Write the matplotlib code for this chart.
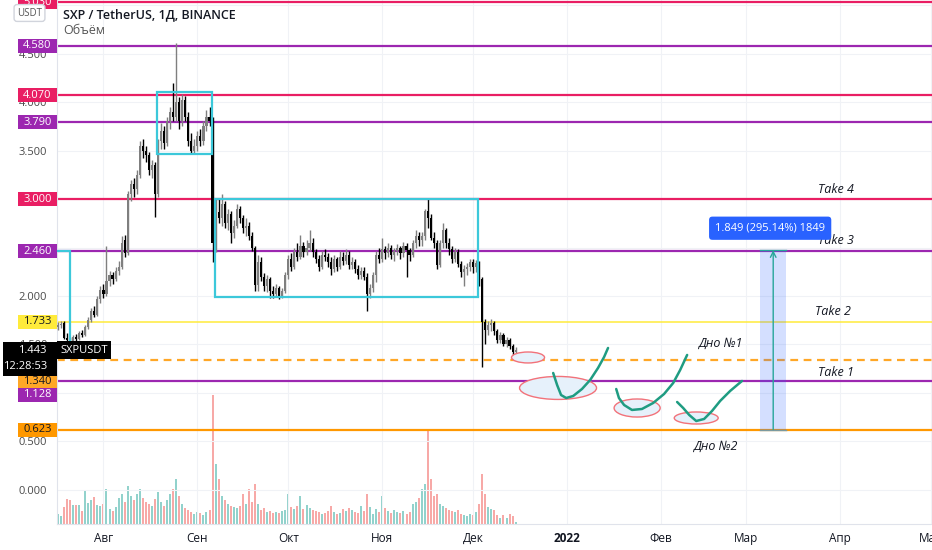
import datetime as dt
import numpy as np
import matplotlib.pyplot as plt
import matplotlib.dates as mdates
import matplotlib.transforms as mtrans
from matplotlib.patches import Rectangle, Ellipse

plt.rcParams['font.family'] = ['Open Sans', 'DejaVu Sans']

# daily SXP/USDT candles from 17 Jul 2021
start = dt.datetime(2021, 7, 17)
opens = [1.68, 1.70, 1.72, 1.57, 1.55, 1.53, 1.58, 1.56, 1.62, 1.60,
         1.68, 1.75, 1.85, 1.80, 1.97, 2.06, 2.02, 2.15, 2.22, 2.18,
         2.26, 2.30, 2.58, 2.44, 3.05, 3.15, 3.10, 3.25, 3.55, 3.50,
         3.45, 3.30, 3.35, 3.05, 3.60, 3.70, 3.58, 3.80, 3.90, 3.85,
         4.00, 3.80, 4.02, 3.85, 3.60, 3.50, 3.55, 3.65, 3.60, 3.75,
         3.85, 3.80, 2.55, 2.87, 2.80, 2.95, 2.75, 2.85, 2.65, 2.72,
         2.90, 2.80, 2.70, 2.72, 2.62, 2.50, 2.11, 2.35, 2.20, 2.10,
         2.18, 2.05, 2.02, 2.08, 2.00, 2.05, 2.22, 2.38, 2.30, 2.45,
         2.40, 2.52, 2.45, 2.50, 2.55, 2.45, 2.38, 2.30, 2.42, 2.40,
         2.35, 2.28, 2.38, 2.30, 2.40, 2.36, 2.42, 2.32, 2.35, 2.28,
         2.22, 2.26, 2.20, 2.02, 2.08, 2.22, 2.42, 2.38, 2.48, 2.44,
         2.50, 2.42, 2.46, 2.50, 2.44, 2.52, 2.47, 2.42, 2.55, 2.62,
         2.58, 2.62, 2.88, 2.80, 2.60, 2.55, 2.32, 2.55, 2.68, 2.55,
         2.48, 2.38, 2.45, 2.33, 2.25, 2.28, 2.30, 2.35, 2.30, 2.34,
         2.18, 1.73, 1.65, 1.70, 1.72, 1.64, 1.55, 1.60, 1.50, 1.55,
         1.48, 1.42]
highs = [1.73, 1.74, 1.74, 1.62, 1.58, 1.60, 1.61, 1.64, 1.65, 1.70,
         1.78, 1.88, 1.90, 2.00, 2.10, 2.12, 2.52, 2.26, 2.25, 2.30,
         2.36, 2.62, 2.63, 3.08, 3.20, 3.22, 3.30, 3.60, 3.62, 3.55,
         3.48, 3.40, 3.38, 3.62, 3.78, 3.75, 3.85, 3.95, 4.20, 4.61,
         4.05, 4.08, 4.06, 3.90, 3.68, 3.62, 3.70, 3.72, 3.80, 3.92,
         3.95, 3.85, 3.00, 3.01, 3.05, 2.98, 2.90, 2.88, 2.78, 2.95,
         2.93, 2.84, 2.80, 2.76, 2.66, 2.52, 2.42, 2.40, 2.24, 2.22,
         2.20, 2.10, 2.12, 2.10, 2.08, 2.25, 2.42, 2.44, 2.50, 2.55,
         2.63, 2.56, 2.58, 2.68, 2.60, 2.48, 2.42, 2.46, 2.48, 2.44,
         2.40, 2.42, 2.40, 2.46, 2.45, 2.48, 2.46, 2.40, 2.38, 2.32,
         2.30, 2.30, 2.24, 2.12, 2.25, 2.46, 2.50, 2.60, 2.52, 2.55,
         2.53, 2.50, 2.54, 2.52, 2.56, 2.55, 2.50, 2.58, 2.68, 2.66,
         2.66, 2.90, 3.01, 2.85, 2.66, 2.58, 2.58, 2.75, 2.70, 2.60,
         2.52, 2.50, 2.48, 2.36, 2.32, 2.34, 2.38, 2.38, 2.37, 2.36,
         2.20, 1.76, 1.74, 1.76, 1.74, 1.66, 1.63, 1.62, 1.58, 1.57,
         1.50, 1.47]
lows = [1.65, 1.67, 1.56, 1.53, 1.50, 1.51, 1.54, 1.55, 1.58, 1.59,
        1.66, 1.73, 1.78, 1.79, 1.93, 1.98, 2.00, 2.10, 2.12, 2.15,
        2.22, 2.28, 2.40, 2.42, 2.98, 3.02, 3.05, 3.22, 3.42, 3.38,
        3.25, 3.22, 2.81, 3.02, 3.52, 3.52, 3.55, 3.72, 3.80, 3.80,
        3.72, 3.75, 3.80, 3.55, 3.46, 3.46, 3.50, 3.55, 3.56, 3.70,
        3.75, 2.35, 2.45, 2.75, 2.72, 2.70, 2.68, 2.55, 2.60, 2.70,
        2.75, 2.65, 2.62, 2.58, 2.46, 2.05, 2.05, 2.15, 2.05, 2.04,
        1.98, 1.98, 1.99, 1.97, 1.98, 2.03, 2.18, 2.26, 2.28, 2.36,
        2.38, 2.40, 2.42, 2.46, 2.40, 2.34, 2.26, 2.28, 2.36, 2.30,
        2.22, 2.25, 2.26, 2.28, 2.32, 2.33, 2.28, 2.28, 2.24, 2.18,
        2.18, 2.16, 1.85, 1.98, 2.04, 2.14, 2.34, 2.35, 2.38, 2.40,
        2.38, 2.36, 2.42, 2.38, 2.40, 2.20, 2.36, 2.40, 2.50, 2.52,
        2.52, 2.58, 2.70, 2.58, 2.50, 2.28, 2.30, 2.50, 2.50, 2.42,
        2.34, 2.35, 2.30, 2.20, 2.10, 2.22, 2.26, 2.24, 2.25, 2.10,
        1.27, 1.50, 1.60, 1.64, 1.60, 1.52, 1.52, 1.48, 1.47, 1.45,
        1.39, 1.40]
closes = [1.70, 1.71, 1.57, 1.55, 1.53, 1.58, 1.56, 1.62, 1.60, 1.68,
          1.75, 1.85, 1.80, 1.97, 2.06, 2.02, 2.15, 2.22, 2.18, 2.26,
          2.30, 2.55, 2.44, 3.05, 3.15, 3.10, 3.25, 3.55, 3.50, 3.45,
          3.30, 3.35, 3.05, 3.60, 3.70, 3.58, 3.80, 3.90, 3.85, 4.00,
          3.80, 4.02, 3.85, 3.60, 3.50, 3.55, 3.65, 3.60, 3.75, 3.85,
          3.80, 2.55, 2.87, 2.80, 2.95, 2.75, 2.85, 2.65, 2.72, 2.90,
          2.80, 2.70, 2.72, 2.62, 2.50, 2.11, 2.35, 2.20, 2.10, 2.18,
          2.05, 2.02, 2.08, 2.00, 2.05, 2.22, 2.38, 2.30, 2.45, 2.40,
          2.52, 2.45, 2.50, 2.55, 2.45, 2.38, 2.30, 2.42, 2.40, 2.35,
          2.28, 2.38, 2.30, 2.40, 2.36, 2.42, 2.32, 2.35, 2.28, 2.22,
          2.26, 2.20, 2.02, 2.08, 2.22, 2.42, 2.38, 2.48, 2.44, 2.50,
          2.42, 2.46, 2.50, 2.44, 2.52, 2.47, 2.42, 2.55, 2.62, 2.58,
          2.62, 2.88, 2.80, 2.60, 2.55, 2.32, 2.55, 2.68, 2.55, 2.48,
          2.38, 2.45, 2.33, 2.25, 2.28, 2.30, 2.35, 2.30, 2.34, 2.18,
          1.73, 1.65, 1.70, 1.72, 1.64, 1.55, 1.60, 1.50, 1.55, 1.48,
          1.42, 1.443]
volume = [10, 8, 17, 25, 24, 19, 19, 19, 13, 33,
          21, 24, 27, 19, 18, 20, 35, 15, 13, 17,
          26, 30, 22, 38, 28, 24, 30, 35, 26, 22,
          20, 18, 25, 32, 22, 18, 24, 30, 35, 45,
          28, 20, 16, 14, 12, 10, 12, 11, 9, 12,
          14, 129, 60, 45, 28, 24, 20, 18, 17, 16,
          18, 30, 20, 35, 22, 40, 20, 14, 16, 12,
          13, 11, 12, 11, 13, 14, 30, 17, 15, 18,
          28, 15, 19, 16, 14, 13, 12, 10, 11, 13,
          18, 12, 10, 11, 15, 13, 16, 14, 12, 11,
          18, 13, 30, 17, 10, 15, 12, 28, 16, 13,
          11, 14, 12, 11, 13, 10, 12, 20, 22, 26,
          35, 40, 94, 45, 28, 30, 20, 18, 16, 14,
          13, 12, 14, 10, 9, 8, 10, 9, 12, 20,
          50, 30, 17, 15, 14, 9, 6, 9, 6, 10,
          8, 2]

# levels drawn on the chart
level_prices = [5.030, 4.580, 4.070, 3.790, 3.000, 2.460, 1.733, 1.340, 1.128, 0.623]
level_colors = ['#e91e63', '#9c27b0', '#e91e63', '#9c27b0', '#e91e63', '#9c27b0',
                '#ffeb3b', '#ffa726', '#9c27b0', '#ff9800']
level_text = ['#ffffff'] * 6 + ['#131722', '#131722', '#ffffff', '#131722']
level_shift = [0, 0, 0, 0, 0, 0, 0, 21, 14, 0]   # px, tags pushed down by the price tag

# boxes (day offset from start, price)
box_d0 = [-10, 32.7, 51.8]
box_d1 = [3.96, 50.8, 138.6]
box_lo = [1.40, 3.464, 1.99]
box_hi = [2.46, 4.103, 3.00]

# hand drawn ellipses and brush strokes
ell_day = [155.1, 165.0, 191.1, 210.6]
ell_price = [1.366, 1.052, 0.845, 0.742]
ell_w = [10.9, 25.4, 15.2, 14.5]
ell_h = [0.113, 0.237, 0.186, 0.124]
stroke1_day = [163.4, 164.7, 166.0, 167.7, 170.0, 172.9, 175.6, 178.2, 180.2, 181.5]
stroke1_price = [1.206, 1.082, 0.979, 0.948, 0.969, 1.041, 1.134, 1.258, 1.371, 1.464]
stroke2_day = [184.2, 185.1, 186.8, 189.4, 192.7, 196.4, 200.0, 203.0, 205.3, 207.6]
stroke2_price = [1.041, 0.948, 0.876, 0.825, 0.835, 0.897, 0.990, 1.103, 1.237, 1.392]
stroke3_day = [204.3, 206.3, 208.3, 210.6, 213.2, 215.8, 218.5, 221.8, 225.7]
stroke3_price = [0.907, 0.845, 0.773, 0.711, 0.732, 0.814, 0.918, 1.021, 1.124]

note_text = ['Take 4', 'Take 3', 'Take 2', 'Take 1', 'Дно №1', 'Дно №2']
note_day = [256.8, 256.8, 255.8, 256.8, 218.5, 216.8]
note_price = [3.103, 2.577, 1.845, 1.216, 1.515, 0.454]

measure_d0, measure_d1 = 231.7, 240.3
measure_lo, measure_hi = 0.623, 2.472
measure_label = '1.849 (295.14%) 1849'

month_starts = [dt.datetime(2021, 8, 1), dt.datetime(2021, 9, 1), dt.datetime(2021, 10, 1),
                dt.datetime(2021, 11, 1), dt.datetime(2021, 12, 1), dt.datetime(2022, 1, 1),
                dt.datetime(2022, 2, 1), dt.datetime(2022, 3, 1), dt.datetime(2022, 4, 1),
                dt.datetime(2022, 5, 1)]
month_labels = ['Авг', 'Сен', 'Окт', 'Ноя', 'Дек', '2022', 'Фев', 'Мар', 'Апр', 'Май']

last_price = 1.443

# ---------------------------------------------------------------
W, H = 932, 550
fig = plt.figure(figsize=(W / 100, H / 100), dpi=100, facecolor='white')
rect = [57 / W, 26 / H, 875 / W, 524 / H]
axv = fig.add_axes(rect)
ax = fig.add_axes(rect, sharex=axv)
ax.patch.set_visible(False)

x0 = mdates.date2num(start)
x = x0 + np.arange(len(closes))
o, h, l, c = map(np.array, (opens, highs, lows, closes))
up = c >= o

# volume underneath
vcol = np.where(up, '#92d2cc', '#f7a9a7')
axv.bar(x, volume, width=0.66, color=vcol, linewidth=0)
axv.set_ylim(0, 524)
axv.set_yticks([])
axv.tick_params(axis='x', length=0, labelbottom=False)
for s in axv.spines.values():
    s.set_visible(False)

ymin, ymax = -0.351, 5.052
ax.set_ylim(ymin, ymax)
ax.set_xlim(x0 - 0.33, x0 + 288.4)
ppx = (ymax - ymin) / 524

# grid, tick labels hidden under the tags are left blank
yt = np.arange(0, 5.01, 0.5)
ax.set_yticks(yt)
ax.set_yticklabels(['' if v in (1.0, 3.0, 5.0) else '%.3f' % v for v in yt])
ax.set_xticks(mdates.date2num(month_starts))
ax.set_xticklabels(month_labels)
ax.grid(True, color='#f0f2f6', lw=0.8)
ax.set_axisbelow(True)
ax.tick_params(axis='y', length=0, pad=7, labelsize=8, labelcolor='#4a4a4a')
ax.tick_params(axis='x', length=0, pad=6, labelsize=8.5, labelcolor='#131722')
ax.get_xticklabels()[5].set_fontweight('bold')
for s in ['top', 'right']:
    ax.spines[s].set_visible(False)
ax.spines['left'].set_color('#e0e3eb')
ax.spines['bottom'].set_color('#e0e3eb')

# candles
ccol = np.where(up, '#7f7f7f', '#000000')
ax.vlines(x, l, h, colors=ccol, lw=1, zorder=3)
ax.bar(x, np.maximum(np.abs(c - o), 0.012), bottom=np.minimum(o, c), width=0.7,
       color=ccol, linewidth=0, zorder=3)

# level lines
for p, col in zip(level_prices, level_colors):
    if p == 1.340:
        ax.axhline(p, color=col, lw=1.6, ls=(0, (3.5, 2.5)), zorder=2)
    elif p == 1.733:
        ax.axhline(p, color=col, lw=1.1, zorder=2)
    else:
        ax.axhline(p, color=col, lw=1.6, zorder=2)

# cyan boxes
for d0, d1, lo, hi in zip(box_d0, box_d1, box_lo, box_hi):
    ax.add_patch(Rectangle((x0 + d0, lo), d1 - d0, hi - lo, fill=False,
                           ec='#3cc8da', lw=1.6, zorder=4))

# ellipses and strokes
for d, p, w, hh in zip(ell_day, ell_price, ell_w, ell_h):
    ax.add_patch(Ellipse((x0 + d, p), w, hh, fc='#e6f1fb', ec='#f2727a', lw=1, zorder=3))
for sd, sp in [(stroke1_day, stroke1_price), (stroke2_day, stroke2_price),
               (stroke3_day, stroke3_price)]:
    ax.plot(x0 + np.array(sd), sp, color='#1f9c82', lw=1.8, solid_capstyle='round',
            solid_joinstyle='round', zorder=4)

for t, d, p in zip(note_text, note_day, note_price):
    ax.text(x0 + d, p, t, ha='center', va='center', fontsize=9, style='italic',
            color='#131722', zorder=5)

# price range measure
ax.add_patch(Rectangle((x0 + measure_d0, measure_lo), measure_d1 - measure_d0,
                       measure_hi - measure_lo, fc='#2962ff', alpha=0.2, ec='none', zorder=3))
ax.plot([x0 + measure_d0, x0 + measure_d1], [measure_hi, measure_hi], color='#26a69a', lw=1, zorder=4)
ax.plot([x0 + measure_d0, x0 + measure_d1], [measure_lo, measure_lo], color='#7b9aa0', lw=1, zorder=4)
xm = x0 + (measure_d0 + measure_d1) / 2
ax.annotate('', xy=(xm, measure_hi), xytext=(xm, measure_lo),
            arrowprops=dict(arrowstyle='->', color='#26a69a', lw=1, shrinkA=0, shrinkB=0),
            zorder=4)
ax.text(xm - 1, measure_hi + 22 * ppx, measure_label, ha='center', va='center', fontsize=8,
        color='white', zorder=6,
        bbox=dict(boxstyle='round,pad=0.55,rounding_size=0.3', fc='#2962ff', ec='none'))

# price tags on the left scale
blend = mtrans.blended_transform_factory(ax.transAxes, ax.transData)
tag_w = 39 / 875
for p, col, tc, sh in zip(level_prices, level_colors, level_text, level_shift):
    yc = p - sh * ppx
    ax.add_patch(Rectangle((-tag_w, yc - 7 * ppx), tag_w, 14 * ppx, transform=blend,
                           fc=col, ec='none', clip_on=False, zorder=7))
    ax.text(-tag_w / 2, yc, '%.3f' % p, transform=blend, ha='center', va='center',
            fontsize=8, color=tc, clip_on=False, zorder=8)

ax.add_patch(Rectangle((-54 / 875, last_price - 26 * ppx), 54 / 875, 34 * ppx,
                       transform=blend, fc='black', ec='none', clip_on=False, zorder=7))
ax.text(-10 / 875, last_price, '%.3f' % last_price, transform=blend, ha='right', va='center',
        fontsize=8, color='white', clip_on=False, zorder=8)
ax.text(-10 / 875, last_price - 16 * ppx, '12:28:53', transform=blend, ha='right',
        va='center', fontsize=8, color='white', clip_on=False, zorder=8)
ax.text(0.004, last_price, 'SXPUSDT', transform=blend, ha='left', va='center', fontsize=8,
        color='white', zorder=8, bbox=dict(boxstyle='square,pad=0.3', fc='black', ec='none'))

# header
fig.text(63 / W, 1 - 15 / H, 'SXP / TetherUS, 1Д, BINANCE', fontsize=9, fontweight='semibold',
         va='center', color='#131722')
fig.text(63 / W, 1 - 30 / H, 'Объём', fontsize=9, va='center', color='#555555')
fig.text(29.5 / W, 1 - 13 / H, 'USDT', ha='center', va='center', fontsize=7, color='#555555',
         zorder=10, bbox=dict(boxstyle='round,pad=0.3', fc='white', ec='#d1d4dc'))

fig.savefig('out.png', dpi=100, facecolor='white')
